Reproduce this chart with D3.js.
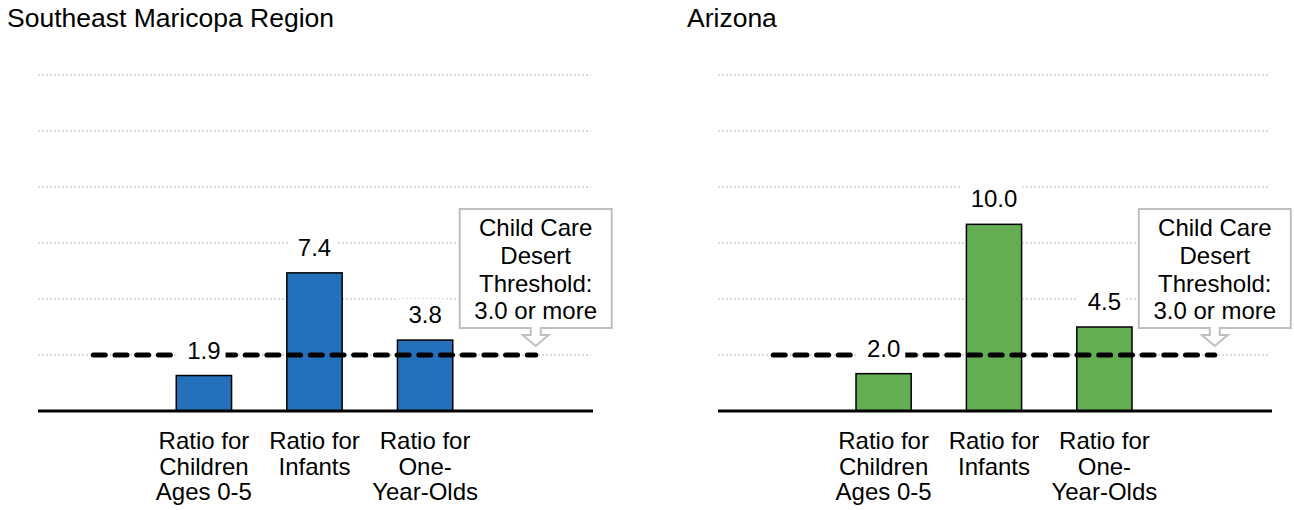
<!DOCTYPE html>
<html>
<head>
<meta charset="utf-8">
<script src="https://cdn.jsdelivr.net/npm/d3@7"></script>
<style>
  html, body { margin: 0; padding: 0; background: #fff; }
  svg { display: block; font-family: "Liberation Sans", Arial, sans-serif; }
</style>
</head>
<body>
<svg id="chart" width="1294" height="510"></svg>
<script>
// ---- data ----
const panelTitles = ["Southeast Maricopa Region", "Arizona"];
const categories = ["Ratio for Children Ages 0-5", "Ratio for Infants", "Ratio for One-Year-Olds"];
const categoryLines = [["Ratio for", "Children", "Ages 0-5"], ["Ratio for", "Infants"], ["Ratio for", "One-", "Year-Olds"]];
const regionValues = [1.9, 7.4, 3.8];
const arizonaValues = [2.0, 10.0, 4.5];
const threshold = 3.0;
const yTicks = [3, 6, 9, 12, 15, 18];
const calloutLines = ["Child Care", "Desert", "Threshold:", "3.0 or more"];
const barColors = ["#2470BB", "#63AE52"];

// ---- layout ----
const svg = d3.select("#chart");
const panels = [
  { x0: 38, x1: 593, values: regionValues, color: barColors[0], title: panelTitles[0] },
  { x0: 718, x1: 1272, values: arizonaValues, color: barColors[1], title: panelTitles[1] }
];
const yTop = 75, yBase = 411;
const slots = ["start"].concat(categories).concat(["end"]);

const y = d3.scaleLinear().domain([0, 18]).range([yBase, yTop]);

panels.forEach(p => {
  const g = svg.append("g");
  const x = d3.scalePoint().domain(slots).range([p.x0, p.x1 - 2]).padding(0.5);
  const bw = x.step() * 0.5;

  // title
  g.append("text").attr("x", p.x0 - 31).attr("y", 27)
    .attr("font-size", 26.5).attr("fill", "#000").text(p.title);

  // gridlines
  g.selectAll("line.grid").data(yTicks).enter().append("line")
    .attr("x1", p.x0).attr("x2", p.x1 - 2)
    .attr("y1", d => y(d)).attr("y2", d => y(d))
    .attr("stroke", "#d0d0d0").attr("stroke-width", 1.5)
    .attr("stroke-dasharray", "2 2");

  // bars
  g.selectAll("rect.bar").data(p.values).enter().append("rect")
    .attr("x", (d, i) => x(categories[i]) - bw / 2)
    .attr("y", d => y(d))
    .attr("width", bw)
    .attr("height", d => yBase - y(d))
    .attr("fill", p.color).attr("stroke", "#000").attr("stroke-width", 1.5);

  // baseline
  g.append("line").attr("x1", p.x0).attr("x2", p.x1)
    .attr("y1", yBase).attr("y2", yBase)
    .attr("stroke", "#000").attr("stroke-width", 3);

  // threshold dashed line
  g.append("line").attr("x1", x("start")).attr("x2", x("end"))
    .attr("y1", y(threshold)).attr("y2", y(threshold))
    .attr("stroke", "#000").attr("stroke-width", 5)
    .attr("stroke-linecap", "round").attr("stroke-dasharray", "12 9.7");

  // value labels with white background
  p.values.forEach((v, i) => {
    const lg = g.append("g");
    const bg = lg.append("rect").attr("fill", "#fff");
    const t = lg.append("text")
      .attr("x", x(categories[i])).attr("y", y(v) - 17)
      .attr("text-anchor", "middle").attr("font-size", 24).attr("fill", "#000")
      .text(v.toFixed(1));
    const bb = t.node().getBBox();
    bg.attr("x", bb.x - 10).attr("y", bb.y - 2).attr("width", bb.width + 15).attr("height", bb.height + 4);
  });

  // category labels
  categoryLines.forEach((lines, i) => {
    const t = g.append("text").attr("text-anchor", "middle")
      .attr("font-size", 24).attr("fill", "#000");
    lines.forEach((ln, j) => {
      t.append("tspan").attr("x", x(categories[i])).attr("y", 449 + j * 25.5).text(ln);
    });
  });

  // callout
  const cx = x("end");
  const bx0 = cx - 76, bx1 = cx + 76, by0 = 209, by1 = 328;
  const path = d3.path();
  path.moveTo(bx0, by0);
  path.lineTo(bx1, by0);
  path.lineTo(bx1, by1);
  path.lineTo(cx + 5, by1);
  path.lineTo(cx + 5, 335);
  path.lineTo(cx + 13, 335);
  path.lineTo(cx, 346);
  path.lineTo(cx - 13, 335);
  path.lineTo(cx - 5, 335);
  path.lineTo(cx - 5, by1);
  path.lineTo(bx0, by1);
  path.closePath();
  g.append("path").attr("d", path.toString())
    .attr("fill", "#fff").attr("stroke", "#bfbfbf").attr("stroke-width", 2);
  const ct = g.append("text").attr("text-anchor", "middle")
    .attr("font-size", 24).attr("fill", "#000");
  calloutLines.forEach((ln, j) => {
    ct.append("tspan").attr("x", cx).attr("y", 236 + j * 27.8).text(ln);
  });
});
</script>
</body>
</html>
